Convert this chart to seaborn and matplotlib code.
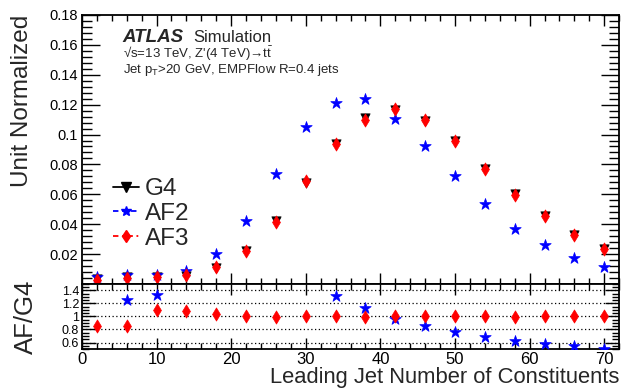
import numpy as np
import pandas as pd
import matplotlib.pyplot as plt
from matplotlib.lines import Line2D
from matplotlib.ticker import MultipleLocator
import seaborn as sns

# bin centres of leading-jet constituent multiplicity
n_const = [2, 6, 10, 14, 18, 22, 26, 30, 34, 38, 42, 46, 50, 54, 58, 62, 66, 70]

# unit-normalised distributions
g4 = [0.0030, 0.0045, 0.0045, 0.0055, 0.0106, 0.0218, 0.0423, 0.0676, 0.0938,
      0.1108, 0.1162, 0.1090, 0.0956, 0.0772, 0.0605, 0.0452, 0.0325, 0.0234]
af2 = [0.0050, 0.0057, 0.0060, 0.0090, 0.0200, 0.0423, 0.0739, 0.1050, 0.1209,
       0.1236, 0.1106, 0.0922, 0.0721, 0.0535, 0.0370, 0.0260, 0.0173, 0.0113]
af3 = [0.0026, 0.0038, 0.0050, 0.0060, 0.0111, 0.0218, 0.0417, 0.0686, 0.0938,
       0.1097, 0.1168, 0.1095, 0.0956, 0.0772, 0.0596, 0.0452, 0.0328, 0.0234]

# ratios to G4 (nan = off the plotted range)
af2_ratio = [np.nan, 1.26, 1.33, np.nan, np.nan, np.nan, np.nan, np.nan, 1.31,
             1.125, 0.965, 0.85, 0.76, 0.69, 0.62, 0.58, 0.545, 0.505]
af3_ratio = [0.85, 0.85, 1.105, 1.085, 1.045, 1.0, 0.985, 1.015, 1.0,
             0.99, 1.005, 1.005, 1.0, 1.0, 0.985, 1.0, 1.01, 1.0]
af3_ratio_err = [0.06, 0.03, 0.02, 0.015, 0.01, 0.01, 0.01, 0.01, 0.01,
                 0.01, 0.01, 0.01, 0.01, 0.01, 0.01, 0.01, 0.01, 0.01]

top = pd.DataFrame({"x": n_const, "G4": g4, "AF2": af2, "AF3": af3})
bot = pd.DataFrame({"x": n_const, "AF2": af2_ratio, "AF3": af3_ratio, "err": af3_ratio_err})

sns.set_style("ticks")
plt.rcParams['font.family'] = ['Liberation Sans', 'DejaVu Sans']
plt.rcParams['mathtext.fontset'] = 'custom'
plt.rcParams['mathtext.rm'] = 'Liberation Sans'
plt.rcParams['mathtext.it'] = 'Liberation Sans:italic'

fig = plt.figure(figsize=(6.21, 3.91), dpi=100)
ax = fig.add_axes([0.132, 0.2737, 0.865, 0.688])
rax = fig.add_axes([0.132, 0.1074, 0.865, 0.1663], sharex=ax)

style = {"G4": ("black", "v", 45), "AF2": ("blue", "*", 75), "AF3": ("red", "d", 45)}
for name in ["G4", "AF2", "AF3"]:
    c, m, s = style[name]
    sns.scatterplot(data=top, x="x", y=name, ax=ax, color=c, marker=m, s=s,
                    edgecolor=c, linewidth=0.5, legend=False, zorder=3)

# ratio panel
for yv in [0.6, 0.8, 1.0, 1.2, 1.4]:
    rax.axhline(yv, color="black", ls=(0, (1, 2)), lw=0.9, zorder=1)
rax.errorbar(bot["x"], bot["AF3"], yerr=bot["err"], fmt="none", ecolor="red", lw=1, zorder=2)
sns.scatterplot(data=bot, x="x", y="AF2", ax=rax, color="blue", marker="*", s=75,
                edgecolor="blue", linewidth=0.5, legend=False, zorder=3)
sns.scatterplot(data=bot, x="x", y="AF3", ax=rax, color="red", marker="d", s=45,
                edgecolor="red", linewidth=0.5, legend=False, zorder=3)

ax.set_xlim(0, 72)
ax.set_ylim(0, 0.18)
rax.set_ylim(0.5, 1.5)

ax.yaxis.set_major_locator(MultipleLocator(0.02))
ax.yaxis.set_minor_locator(MultipleLocator(0.004))
ax.xaxis.set_major_locator(MultipleLocator(10))
ax.xaxis.set_minor_locator(MultipleLocator(2))
rax.yaxis.set_major_locator(MultipleLocator(0.2))
rax.yaxis.set_minor_locator(MultipleLocator(0.05))

ax.set_yticks([0.02, 0.04, 0.06, 0.08, 0.10, 0.12, 0.14, 0.16, 0.18])
ax.set_yticklabels(["0.02", "0.04", "0.06", "0.08", "0.1", "0.12", "0.14", "0.16", "0.18"])
rax.set_yticks([0.6, 0.8, 1.0, 1.2, 1.4])
rax.set_yticklabels(["0.6", "0.8", "1", "1.2", "1.4"])
rax.set_xticks([0, 10, 20, 30, 40, 50, 60, 70])
rax.set_xticklabels(["0", "10", "20", "30", "40", "50", "60", "70"])

for a in (ax, rax):
    a.tick_params(which="both", direction="in", top=True, right=True, colors="black")
    for sp in a.spines.values():
        sp.set_linewidth(1.3)
        sp.set_color("black")
ax.tick_params(axis="y", which="major", length=13, width=1, labelsize=10.5, pad=3)
ax.tick_params(axis="y", which="minor", length=7, width=1)
ax.tick_params(axis="x", which="major", length=8, width=1, labelbottom=False)
ax.tick_params(axis="x", which="minor", length=4, width=1)
rax.tick_params(axis="y", which="major", length=10, width=1, labelsize=9, pad=2)
rax.tick_params(axis="y", which="minor", length=5, width=1)
rax.tick_params(axis="x", which="major", length=8, width=1, labelsize=12, pad=2)
rax.tick_params(axis="x", which="minor", length=4, width=1)

ax.set_xlabel("")
ax.set_ylabel("Unit Normalized", fontsize=17.5, loc="top", labelpad=12)
rax.set_ylabel("AF/G4", fontsize=18.5)
rax.yaxis.set_label_coords(-0.082, 0.5)
rax.set_xlabel("Leading Jet Number of Constituents", fontsize=15.8, loc="right", labelpad=0)

# ATLAS label
ax.text(0.075, 0.918, "ATLAS", transform=ax.transAxes, fontsize=13.5, fontweight="bold",
        fontstyle="italic", va="center")
ax.text(0.207, 0.918, "Simulation", transform=ax.transAxes, fontsize=12, va="center")
ax.text(0.077, 0.855, "\u221as=13 TeV, Z'(4 TeV)\u2192t$\\bar{\\rm t}$",
        transform=ax.transAxes, fontsize=9.5, va="center")
ax.text(0.077, 0.797, r"Jet p$_{\rm T}$>20 GeV, EMPFlow R=0.4 jets",
        transform=ax.transAxes, fontsize=9.5, va="center")

handles = [
    Line2D([], [], color="black", ls="-", marker="v", markersize=6.5, lw=1.3),
    Line2D([], [], color="blue", ls=(0, (3, 2)), marker="*", markersize=7.5, lw=1.3),
    Line2D([], [], color="red", ls=(0, (3, 2, 1, 2)), marker="d", markersize=6.5, lw=1.3),
]
ax.legend(handles, ["G4", "AF2", "AF3"], loc="upper left", bbox_to_anchor=(0.04, 0.43),
          frameon=False, fontsize=17.5, handlelength=1.05, handletextpad=0.25,
          labelspacing=0.12, borderaxespad=0)

fig.savefig("out.png", dpi=100)
